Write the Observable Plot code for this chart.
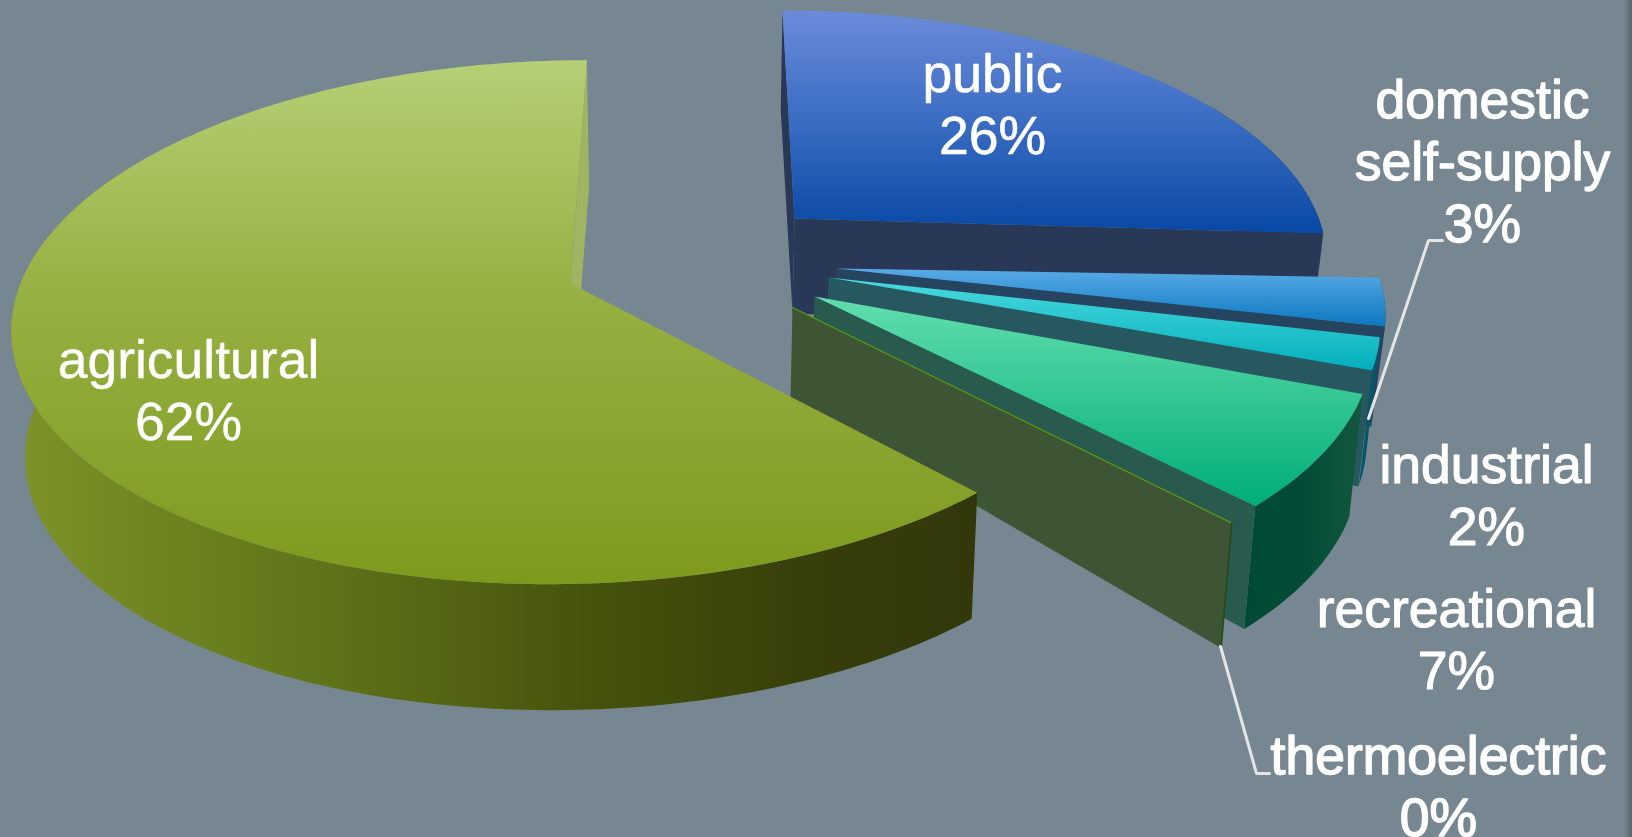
<!DOCTYPE html>
<html>
<head>
<meta charset="utf-8">
<script src="https://cdn.jsdelivr.net/npm/d3@7"></script>
<script src="https://cdn.jsdelivr.net/npm/@observablehq/plot@0.6"></script>
<style>
  html, body { margin: 0; padding: 0; overflow: hidden; }
  body { width: 1632px; height: 837px; background: linear-gradient(to right, #768791 0, #768791 1624px, #56646c 1632px); }
  svg { display: block; background: transparent !important; }
</style>
</head>
<body>
<div id="chart"></div>
<script>
// Water use by category, in percent, clockwise from twelve o'clock.
const categories = ["public", "domestic\nself-supply", "industrial", "recreational", "thermoelectric", "agricultural"];
const shares = [26, 3, 2, 7, 0, 62];

// Exploded position of each wedge's tip on the pie's floor plane (unit radius).
const tipX = [0.185, 0.257, 0.2413, 0.2132, 0.172, -0.233];
const tipY = [0.329, 0.125, 0.0893, 0.0154, -0.0268, 0.0657];
// Small rotation of each wedge in degrees, and its sideways stretch.
const twist = [0, 1.5, 1.3, 0.8, 0, 0];
const reach = [1, 1, 1, 1, 1.008, 1.01];
// Wall height in pixels at the tip and at the rim.
const wallIn = [95, 95, 95, 95, 90, 110];
const wallOut = [100, 100, 116, 123, 125, 126];

const topFill = ["url(#gPublic)", "url(#gDomestic)", "url(#gIndustrial)", "url(#gRecreational)", "none", "url(#gAgri)"];
const rimFill = ["#2a3858", "#25445f", "#03586a", "url(#gRecWall)", "none", "url(#gAgriWall)"];
const sideFill = ["#2a3858", "#25445f", "#27575f", "#285a4e", "#3e5535", "#a0b562"];

// Gradient stops: id, direction, stops.
const gradients = [
  ["gPublic", "v", [[0, "#6b8bd9"], [0.5, "#3a6cc2"], [1, "#0748a5"]]],
  ["gDomestic", "v", [[0, "#5aaae6"], [1, "#0a78c0"]]],
  ["gIndustrial", "v", [[0, "#4adadf"], [1, "#03afbb"]]],
  ["gRecreational", "v", [[0, "#62deae"], [1, "#00ad77"]]],
  ["gRecWall", "h", [[0, "#004a35"], [0.5, "#034b36"], [1, "#14573f"]]],
  ["gAgri", "v", [[0, "#b5d076"], [0.45, "#97b043"], [1, "#7d9a1c"]]],
  ["gAgriWall", "h", [[0, "#7e9328"], [0.29, "#62771a"], [0.61, "#45520c"], [0.85, "#363d0a"], [1, "#32380a"]]]
];

// Label placement: text centre, last-line baseline and outline weight.
const labelX = [992, 1482, 1486, 1456, 1438, 188];
const labelY = [153, 241, 544, 688, 835, 439];
const labelWeight = [0.6, 1.3, 1.1, 1.1, 1.5, 0.4];

// Leader lines for the two labels that sit away from their wedges.
const leaderA = {x: [1442, 1428, 1368], y: [240, 240, 418]};
const leaderB = {x: [1220, 1256, 1269], y: [646, 773, 773]};

// Perspective of the tilted pie.
const view = {vx: 697, horizon: -1454, depth: 1754, a: 550, k: 0.149, taper: 0.02};

function project(X, Y, drop = 0) {
  const s = 1 / (1 + view.k * Y);
  const x = view.vx + view.a * X * s;
  return {
    x: drop ? view.vx + (x - view.vx) * (1 - view.taper) : x,
    y: view.horizon + view.depth * s + drop
  };
}

const rad = d => d * Math.PI / 180;

// Angles of every wedge, worked out from its share.
let cum = 0;
const wedges = shares.map((share, i) => {
  const start = 90 - cum * 3.6 + twist[i];
  const end = start - share * 3.6;
  cum += share;
  return {i, share, start, end};
});

const rim = (w, t, drop) =>
  project(tipX[w.i] + reach[w.i] * Math.cos(rad(t)), tipY[w.i] + Math.sin(rad(t)), drop);

function arc(w, from, to, drop) {
  const n = Math.max(1, Math.ceil(Math.abs(to - from)));
  return d3.range(n + 1).map(j => rim(w, from + (to - from) * j / n, drop));
}

const topFace = w => [project(tipX[w.i], tipY[w.i]), ...arc(w, w.start, w.end, 0)];

const sideFace = (w, t) => [
  project(tipX[w.i], tipY[w.i]),
  rim(w, t, 0),
  rim(w, t, wallOut[w.i]),
  project(tipX[w.i], tipY[w.i], wallIn[w.i])
];

// Only the part of the rim that faces the viewer gets a wall.
function rimFace(w) {
  const angles = d3.range(Math.ceil(w.end), w.start).concat([w.start]).filter(t => Math.sin(rad(t)) < 0.5);
  const lo = d3.min(angles), hi = d3.max(angles);
  return [...arc(w, hi, lo, 0), ...arc(w, lo, hi, wallOut[w.i])];
}

const face = (pts, fill) => Plot.line(pts, {x: "x", y: "y", fill, stroke: "none", curve: "linear"});

// Back-to-front painting order: walls first, then the top surface of each wedge.
const marks = [];
for (const w of wedges) {
  if (w.i === 0) marks.push(face(sideFace(w, w.start), sideFill[0]));
  if (w.share > 0) marks.push(face(rimFace(w), rimFill[w.i]));
  marks.push(face(sideFace(w, w.end), sideFill[w.i]));
  if (w.share > 0) marks.push(face(topFace(w), topFill[w.i]));
  if (w.share === 0) {
    const f = sideFace(w, w.end);
    marks.push(Plot.line(f.slice(0, 2), {x: "x", y: "y", stroke: "#5da010", strokeWidth: 1.2}));
    marks.push(Plot.line(f.slice(1, 3), {x: "x", y: "y", stroke: "#26491a", strokeWidth: 1.6}));
  }
}

const defs = () => {
  const d = d3.create("svg:defs");
  for (const [id, dir, stops] of gradients) {
    const g = d.append("linearGradient").attr("id", id)
      .attr("x1", 0).attr("y1", 0)
      .attr("x2", dir === "h" ? 1 : 0).attr("y2", dir === "v" ? 1 : 0);
    for (const [o, c] of stops) g.append("stop").attr("offset", o).attr("stop-color", c);
  }
  return d.node();
};

const labels = categories.map((c, i) => ({
  text: `${c}\n${shares[i]}%`, x: labelX[i], y: labelY[i], weight: labelWeight[i]
}));
const leader = l => Plot.line(l.x.map((x, i) => ({x, y: l.y[i]})), {
  x: "x", y: "y", stroke: "#e4e6e6", strokeWidth: 3, curve: "linear", strokeLinejoin: "miter"
});

const chart = Plot.plot({
  width: 1632,
  height: 837,
  margin: 0,
  x: {domain: [0, 1632], range: [0, 1632], axis: null},
  y: {domain: [0, 837], range: [0, 837], axis: null},
  style: {background: "transparent"},
  marks: [
    defs,
    ...marks,
    leader(leaderA),
    leader(leaderB),
    Plot.text(labels, {
      x: "x", y: "y", text: "text",
      fill: "white", stroke: "white", strokeWidth: "weight",
      fontFamily: "Liberation Sans", fontSize: 53.5,
      lineHeight: 1.15, textAnchor: "middle", lineAnchor: "bottom"
    })
  ]
});
document.getElementById("chart").append(chart);
</script>
</body>
</html>
